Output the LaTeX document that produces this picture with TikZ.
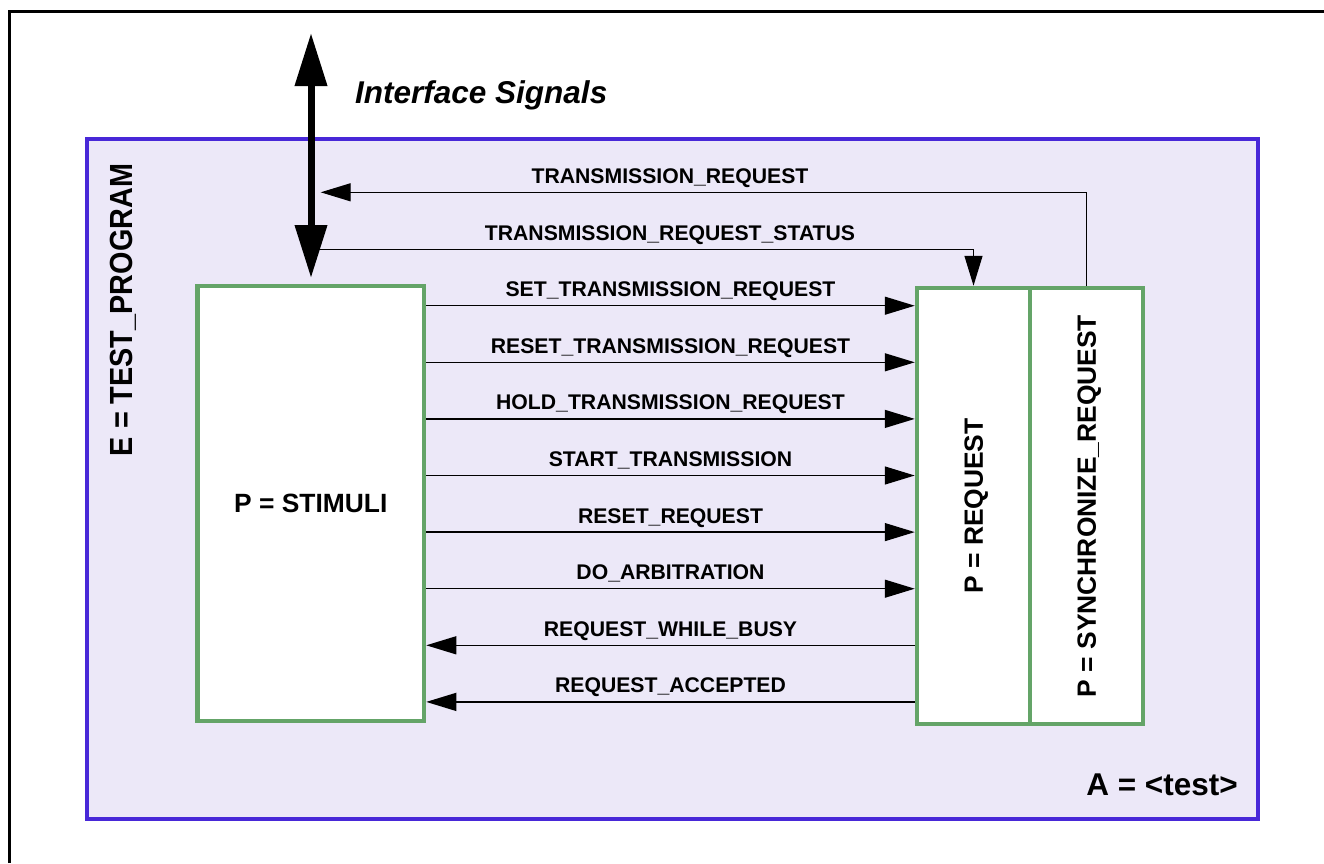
\documentclass[tikz,border=0pt]{standalone}
\usepackage{fontspec}
\setmainfont{Liberation Sans}
\usetikzlibrary{arrows.meta}
\definecolor{envblue}{RGB}{72,40,216}
\definecolor{envfill}{RGB}{236,232,248}
\definecolor{procgreen}{RGB}{100,164,104}
\tikzset{
  proc/.style={draw=procgreen, line width=4.5pt, fill=white, rectangle, inner sep=0pt},
  sig/.style={line width=1.3pt, -{Triangle[length=30pt,width=18pt]}},
  sigl/.style={font=\bfseries\fontsize{21.2}{24}\selectfont, anchor=base, inner sep=0pt},
  bigl/.style={font=\bfseries\fontsize{26.4}{30}\selectfont, text height=18.9pt, text depth=0pt, inner sep=0pt},
  titl/.style={font=\bfseries\fontsize{31.5}{36}\selectfont, inner sep=0pt},
  bigarrow/.style={line width=7pt, {Triangle[length=53pt,width=31pt]}-{Triangle[length=53pt,width=31pt]}},
}
\begin{document}
\begin{tikzpicture}[x=1pt,y=-1pt]
\useasboundingbox (0,0) rectangle (1324,863);
\fill[white] (0,0) rectangle (1324,863);
\draw[line width=3pt] (9.5,863) -- (9.5,11) -- (1324,11);
\node[draw=envblue, fill=envfill, line width=4pt, minimum width=1170.7pt, minimum height=680pt, inner sep=0pt, anchor=north west] (env) at (85.3,137) {};
% processes
\node[proc, bigl, minimum width=226.5pt, minimum height=435pt] (stim) at (310.75,503.5) {P = STIMULI};
\node[proc, minimum width=113pt, minimum height=436pt] (req) at (973.5,506) {};
\node[proc, minimum width=113pt, minimum height=436pt] (sync) at (1086.5,506) {};
\node[bigl, rotate=90] (reqlab) at (req.center) {P = REQUEST};
\node[bigl, rotate=90] (synclab) at (sync.center) {P = SYNCHRONIZE\_REQUEST};
% titles
\node[titl, font=\bfseries\fontsize{32}{36}\selectfont, rotate=90, anchor=base] (ent) at (132,310) {\scalebox{0.9}[1]{E = TEST\_PROGRAM}};
\node[titl, anchor=base east] (arch) at (1238,795) {A = <test>};
\node[titl, font=\bfseries\itshape\fontsize{31.5}{36}\selectfont, anchor=base west] (iflab) at (355,103) {Interface Signals};
% interface double arrow
\coordinate (ifTop) at (311,33);
\coordinate (ifBot) at (311,278);
\draw[bigarrow] (ifTop) -- (ifBot);
% feedback signals
\coordinate (trY) at (0,192.3);
\coordinate (trEnd) at (320.7,192.3);
\draw[sig] (sync.north) -- (sync.north |- trY) -- (trEnd);
\node[sigl] (trlab) at (670,183.3) {TRANSMISSION\_REQUEST};
\coordinate (stStart) at (319.3,249.3);
\draw[sig] (stStart) -- (req.north |- stStart) -- (req.north);
\node[sigl] (stlab) at (670,240.3) {TRANSMISSION\_REQUEST\_STATUS};
% forward signals
\foreach \i/\y/\t in {1/305.7/SET\_TRANSMISSION\_REQUEST,
                      2/362.3/RESET\_TRANSMISSION\_REQUEST,
                      3/418.9/HOLD\_TRANSMISSION\_REQUEST,
                      4/475.5/START\_TRANSMISSION,
                      5/532.1/RESET\_REQUEST,
                      6/588.7/DO\_ARBITRATION}{
  \coordinate (r\i) at (0,\y);
  \draw[sig] (stim.east |- r\i) -- node[sigl, yshift=9pt] (l\i) {\t} (req.west |- r\i);
}
\foreach \i/\y/\t in {7/645.3/REQUEST\_WHILE\_BUSY,
                      8/701.9/REQUEST\_ACCEPTED}{
  \coordinate (r\i) at (0,\y);
  \draw[sig] (req.west |- r\i) -- node[sigl, yshift=9pt] (l\i) {\t} (stim.east |- r\i);
}
\end{tikzpicture}
\end{document}
